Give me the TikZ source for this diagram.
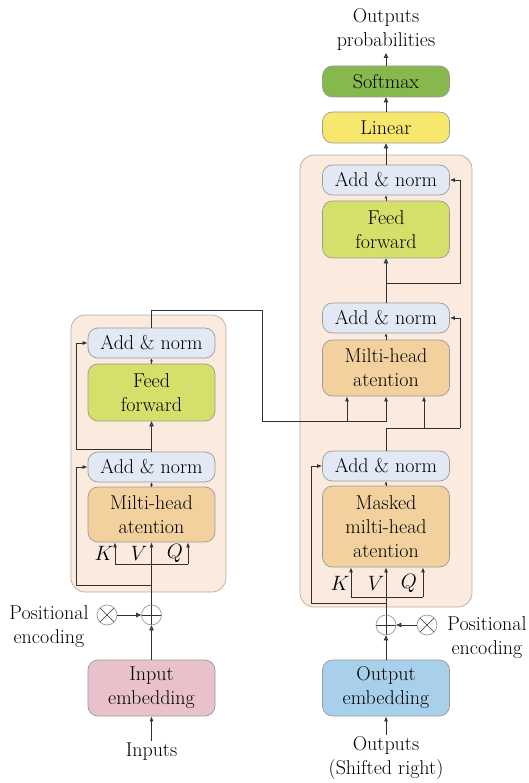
\documentclass[tikz,border=0pt]{standalone}
\usetikzlibrary{arrows.meta,calc}
\definecolor{outerfill}{HTML}{FBEBDF}
\definecolor{outerdraw}{HTML}{B9AA9E}
\definecolor{addfill}{HTML}{E2E9F4}
\definecolor{fffill}{HTML}{D5E06B}
\definecolor{attfill}{HTML}{F2D19F}
\definecolor{softfill}{HTML}{87B84E}
\definecolor{linfill}{HTML}{F7E76C}
\definecolor{inembfill}{HTML}{E8C1CB}
\definecolor{outembfill}{HTML}{A8D0EA}
\definecolor{boxdraw}{HTML}{9A9A9A}
\definecolor{linecol}{HTML}{303030}
\definecolor{tipblue}{HTML}{4A86C8}
\begin{document}
\begin{tikzpicture}[x=1pt,y=-1pt,
  font=\fontsize{20}{24}\selectfont,
  every node/.style={inner sep=0pt,text=black},
  blk/.style={draw=boxdraw,line width=0.7pt,rounded corners=10pt,minimum width=127pt,align=center},
  addb/.style={blk,fill=addfill,minimum height=30pt},
  ffb/.style={blk,fill=fffill,minimum height=57pt},
  attb/.style={blk,fill=attfill},
  outerbox/.style={draw=outerdraw,fill=outerfill,line width=0.7pt,rounded corners=14pt},
  conn/.style={draw=linecol,line width=0.9pt},
  arr/.style={conn,-{Latex[length=5pt,width=4pt]}},
  barr/.style={conn,-{Triangle[length=5pt,width=4.5pt,fill=tipblue]}},
  tarr/.style={conn,-{Latex[length=3pt,width=3pt]}},
  oplusb/.style={circle,draw=boxdraw,line width=0.7pt,minimum size=20pt,
    path picture={\draw[linecol,line width=0.6pt] (path picture bounding box.north) -- (path picture bounding box.south) (path picture bounding box.west) -- (path picture bounding box.east);}},
  otimesb/.style={circle,draw=boxdraw,line width=0.7pt,minimum size=20pt,
    path picture={\draw[linecol,line width=0.6pt] (path picture bounding box.north west) -- (path picture bounding box.south east) (path picture bounding box.south west) -- (path picture bounding box.north east);}},
  lbl/.style={align=center}
]
\useasboundingbox (0,0) rectangle (528,783);

% outer boxes
\path[outerbox] (71,315) rectangle (226,592);
\path[outerbox] (300,155) rectangle (472,607);

% ---------- Encoder ----------
\node[addb] (eaddB) at (151.5,343) {Add \& norm};
\node[ffb] (eff) at (151.5,392.5) {Feed\\forward};
\node[addb] (eaddA) at (151.5,467) {Add \& norm};
\node[attb,minimum height=55pt] (eatt) at (151.5,514.5) {Milti-head\\atention};
\node[oplusb] (eplus) at (151.5,615) {};
\node[otimesb] (etimes) at (107,615) {};
\node[lbl] (eposl) at (49,627) {Positional\\encoding};
\node[blk,fill=inembfill,minimum height=56pt] (eemb) at (151.5,688) {Input\\embedding};
\node (inputs) at (151.5,752) {Inputs};
\node (eK) at (104,553) {$K$};
\node (eV) at (139,553) {$V$};
\node (eQ) at (175,553) {$Q$};
\coordinate (eKt) at (115,564);
\coordinate (eQt) at (188,564);

\draw[arr] (inputs.north) ++(0,-2) -- (eemb.south);
\draw[barr] (eemb.north) -- (eplus.south);
\draw[barr] (etimes.east) -- (eplus.west);
\draw[arr] (eplus.north) -- (eatt.south);
\draw[conn] (eKt) -- (eQt);
\draw[arr] (eKt) -- (eKt |- eatt.south);
\draw[arr] (eQt) -- (eQt |- eatt.south);
\draw[arr] (151.5,585) -- (76,585) |- (eaddA.west);
\draw[tarr] (eatt.north) -- (eaddA.south);
\draw[barr] (eaddA.north) -- (eff.south);
\draw[arr] (151.5,449) -- (76,449) |- (eaddB.west);
\draw[tarr] (eff.north) -- (eaddB.south);

% ---------- Decoder ----------
\node[addb] (daddC) at (386,180) {Add \& norm};
\node[ffb] (dff) at (386,229.5) {Feed\\forward};
\node[addb] (daddB) at (386,318) {Add \& norm};
\node[attb,minimum height=56pt] (datt) at (386,368) {Milti-head\\atention};
\node[addb] (daddA) at (386,466) {Add \& norm};
\node[attb,minimum height=81pt] (dmatt) at (386,526.5) {Masked\\milti-head\\atention};
\node[blk,fill=linfill,minimum height=31pt] (linear) at (386,127.5) {Linear};
\node[blk,fill=softfill,minimum height=31pt] (softmax) at (386,81.5) {Softmax};
\node[lbl] (outprob) at (386,29) {Outputs\\probabilities};
\node[oplusb] (dplus) at (386,625) {};
\node[otimesb] (dtimes) at (427,625) {};
\node[lbl] (dposl) at (487,638) {Positional\\encoding};
\node[blk,fill=outembfill,minimum height=56pt] (demb) at (386,688) {Output\\embedding};
\node[lbl] (outputs) at (386,758) {Outputs\\(Shifted right)};
\node (dK) at (340,583) {$K$};
\node (dV) at (376,583) {$V$};
\node (dQ) at (409,583) {$Q$};
\coordinate (dKt) at (351,597);
\coordinate (dQt) at (423,597);

\draw[arr] (outputs.north) ++(0,-1) -- (demb.south);
\draw[barr] (demb.north) -- (dplus.south);
\draw[barr] (dtimes.west) -- (dplus.east);
\draw[arr] (dplus.north) -- (dmatt.south);
\draw[conn] (dKt) -- (dQt);
\draw[arr] (dKt) -- (dKt |- dmatt.south);
\draw[arr] (dQt) -- (dQt |- dmatt.south);
\draw[arr] (386,603) -- (311,603) |- (daddA.west);
\draw[tarr] (dmatt.north) -- (daddA.south);
\draw[conn] (daddA.north) -- (386,428) -- (460,428);
\coordinate (dqa) at (424,428);
\draw[arr] (460,428) |- (daddB.east);
\draw[arr] (dqa) -- (dqa |- datt.south);
\draw[tarr] (datt.north) -- (daddB.south);
\draw[barr] (daddB.north) -- (dff.south);
\draw[arr] (386,283) -- (460,283) |- (daddC.east);
\draw[tarr] (dff.north) -- (daddC.south);
\draw[barr] (daddC.north) -- (linear.south);
\draw[barr] (linear.north) -- (softmax.south);
\draw[barr] (softmax.north) -- (386,53);

% encoder to decoder
\coordinate (ekv) at (347,421);
\draw[arr] (eaddB.north) -- (151.5,310) -- (262,310) -- (262,421) -- (386,421) -- (datt.south);
\draw[arr] (ekv) -- (ekv |- datt.south);
\end{tikzpicture}
\end{document}
